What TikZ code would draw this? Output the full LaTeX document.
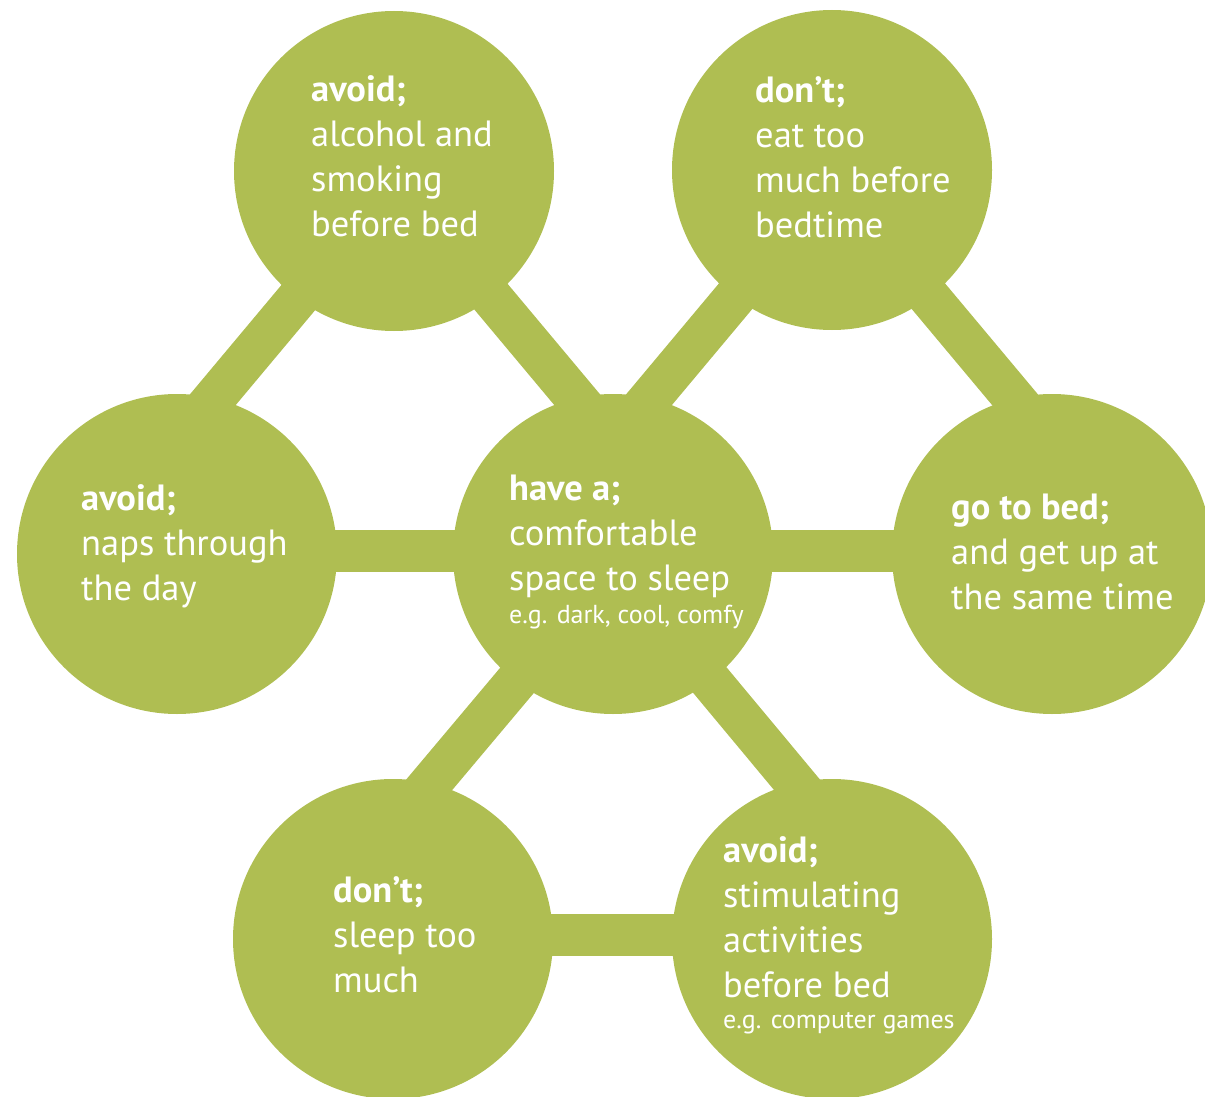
\documentclass[tikz,border=0pt]{standalone}
\usepackage{fontspec}
\setmainfont{PT Sans}
\definecolor{leaf}{HTML}{AFBE52}
\begin{document}
\begin{tikzpicture}[x=1pt,y=-1pt,
  blob/.style={circle,fill=leaf,draw=none,minimum size=320pt,inner sep=0pt},
  band/.style={draw=leaf,line width=42pt,line cap=butt},
  txt/.style={text=white,align=left,anchor=base west,inner sep=0pt,font=\fontsize{36.5}{44.8}\selectfont},
  small/.style={text=white,anchor=base west,inner sep=0pt,font=\fontsize{26}{30}\selectfont}]
\useasboundingbox (0,0) rectangle (1205,1097);
% circles
\node[blob] (tl) at (394,171) {};
\node[blob] (tr) at (832,170) {};
\node[blob] (l)  at (177,554) {};
\node[blob] (c)  at (613,554) {};
\node[blob] (r)  at (1052,554) {};
\node[blob] (bl) at (393,939) {};
\node[blob] (br) at (832,939) {};
% connectors
\draw[band] ([shift={(0,-3)}]l.center) -- ([shift={(0,-3)}]c.center);
\draw[band] ([shift={(0,-3)}]c.center) -- ([shift={(0,-3)}]r.center);
\draw[band] ([shift={(0,-4)}]bl.center) -- ([shift={(0,-4)}]br.center);
\draw[band] ([shift={(1,11)}]tl.center) -- ([shift={(13,-127)}]l.center);
\draw[band] ([shift={(1,11)}]tl.center) -- ([shift={(-13,-127)}]c.center);
\draw[band] ([shift={(0,11)}]tr.center) -- ([shift={(14,-128)}]c.center);
\draw[band] ([shift={(0,11)}]tr.center) -- ([shift={(-15,-128)}]r.center);
\draw[band] ([shift={(1,11)}]c.center) -- ([shift={(15,-129)}]bl.center);
\draw[band] ([shift={(1,11)}]c.center) -- ([shift={(-14,-129)}]br.center);
% texts (anchor = baseline of last line)
\node[txt] (ttl) at (311,236) {\textbf{avoid;}\\alcohol and\\smoking\\before bed};
\node[txt] (ttr) at (755,237) {\textbf{don’t;}\\eat too\\much before\\bedtime};
\node[txt] (tl2) at (81,600) {\textbf{avoid;}\\naps through\\the day};
\node[txt] (tc) at (509,590) {\textbf{have a;}\\comfortable\\space to sleep};
\node[small] (tcs) at (509,623) {e.g. dark, cool, comfy};
\node[txt] (tr2) at (951,609) {\textbf{go to bed;}\\and get up at\\the same time};
\node[txt] (tbl) at (333,992) {\textbf{don’t;}\\sleep too\\much};
\node[txt] (tbr) at (723,997) {\textbf{avoid;}\\stimulating\\activities\\before bed};
\node[small] (tbrs) at (723,1028) {e.g. computer games};
\end{tikzpicture}
\end{document}
